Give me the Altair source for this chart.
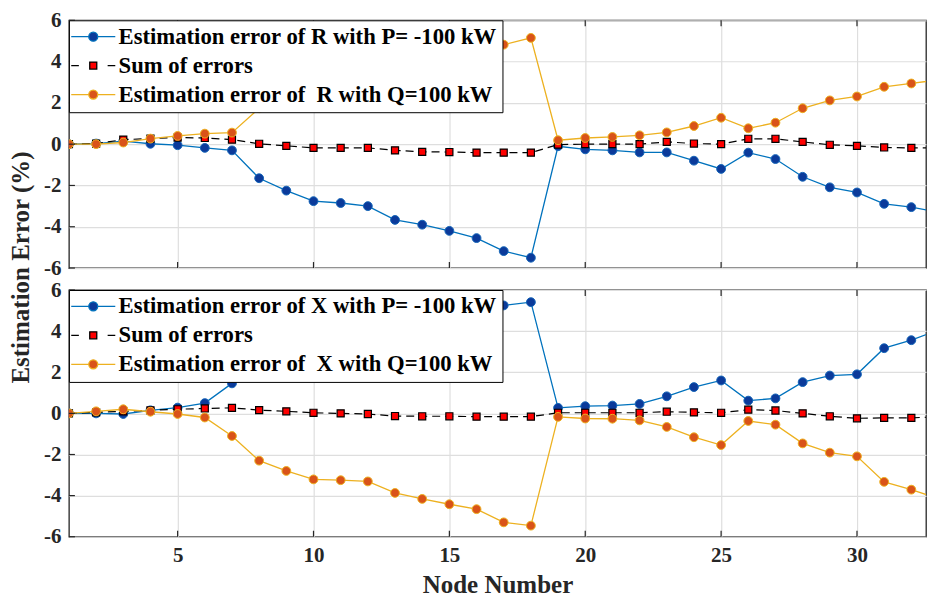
import altair as alt
import pandas as pd

# ---------------- data ----------------
nodes = list(range(1, 34))

r_p = [0.0, 0.03, 0.15, 0.02, -0.05, -0.18, -0.3, -1.65, -2.25, -2.76, -2.85, -3.0, -3.67,
       -3.9, -4.2, -4.55, -5.18, -5.5, -0.1, -0.25, -0.3, -0.4, -0.4, -0.8, -1.2, -0.41,
       -0.72, -1.58, -2.09, -2.34, -2.89, -3.05, -3.29]
r_sum = [0.0, 0.03, 0.22, 0.27, 0.32, 0.3, 0.22, 0.02, -0.08, -0.18, -0.18, -0.18, -0.3,
         -0.37, -0.38, -0.41, -0.41, -0.41, -0.02, 0.0, 0.0, 0.0, 0.11, 0.03, 0.0, 0.26,
         0.26, 0.11, -0.03, -0.08, -0.16, -0.18, -0.17]
r_q = [0.0, 0.0, 0.08, 0.27, 0.4, 0.51, 0.56, 1.74, 2.17, 2.58, 2.67, 2.82, 3.37, 3.53,
       3.82, 4.14, 4.82, 5.15, 0.19, 0.3, 0.35, 0.43, 0.57, 0.88, 1.28, 0.77, 1.04, 1.74,
       2.12, 2.31, 2.78, 2.94, 3.12]

x_p = [0.0, 0.0, -0.03, 0.15, 0.28, 0.5, 1.46, 2.46, 2.9, 3.24, 3.25, 3.28, 3.74, 4.02,
       4.28, 4.5, 5.25, 5.41, 0.27, 0.35, 0.38, 0.46, 0.83, 1.28, 1.6, 0.62, 0.73, 1.52,
       1.84, 1.9, 3.17, 3.56, 4.06]
x_sum = [0.0, 0.05, 0.1, 0.15, 0.2, 0.24, 0.27, 0.16, 0.1, 0.03, 0.0, -0.03, -0.13, -0.14,
         -0.14, -0.16, -0.16, -0.16, 0.03, 0.03, 0.03, 0.03, 0.08, 0.05, 0.03, 0.18, 0.14,
         0.0, -0.14, -0.24, -0.22, -0.22, -0.16]
x_q = [0.0, 0.1, 0.2, 0.08, -0.03, -0.2, -1.1, -2.3, -2.8, -3.21, -3.25, -3.31, -3.87,
       -4.16, -4.42, -4.66, -5.3, -5.46, -0.17, -0.25, -0.26, -0.34, -0.66, -1.16, -1.54,
       -0.37, -0.55, -1.46, -1.91, -2.09, -3.33, -3.71, -4.15]

x_ticks = [5, 10, 15, 20, 25, 30]
y_ticks = [-6, -4, -2, 0, 2, 4, 6]

# ---------------- styles ----------------
FONT = "Liberation Serif"
INK = "#262626"
GRID = "#dedede"
BLUE_LINE, BLUE_FILL, BLUE_EDGE = "#0072BD", "#0B3A9A", "#1464B8"
ORANGE_LINE, ORANGE_FILL, ORANGE_EDGE = "#EDB120", "#D95319", "#EDB120"
SUM_FILL = "#FF0000"

RC = 1.0
circle_path = f"M{RC},0A{RC},{RC} 0 1,1 -{RC},0A{RC},{RC} 0 1,1 {RC},0Z"
blue_sym = f"M-4.9,0H-{RC}M{RC},0H4.9" + circle_path
orange_sym = blue_sym
sum_sym = "M-4.9,0H-3.2M3.2,0H4.9M-0.78,-0.78H0.78V0.78H-0.78Z"

PLOT_W = 858
X_END = 32.54


def panel(p_vals, s_vals, q_vals, letter, height, bottom):
    names = [f"Estimation error of {letter} with P= -100 kW",
             "Sum of errors",
             f"Estimation error of\u00a0 {letter} with Q=100 kW"]
    df = pd.DataFrame({
        "node": nodes * 3,
        "value": p_vals + s_vals + q_vals,
        "series": [names[0]] * 33 + [names[1]] * 33 + [names[2]] * 33,
    })
    xs = alt.Scale(domain=[1, X_END], nice=False, zero=False)
    ys = alt.Scale(domain=[-6, 6], nice=False, zero=False)

    xa = dict(values=x_ticks, grid=True, ticks=False, domain=False, gridColor=GRID,
              gridWidth=1.2, labels=bottom, labelFontSize=21, labelFontWeight="bold",
              labelColor=INK, labelPadding=8)
    if bottom:
        xa.update(title="Node Number", titleFontSize=25, titleFontWeight="bold",
                  titleColor=INK, titlePadding=7)
    else:
        xa.update(title="")
    ya = dict(values=y_ticks, grid=True, ticks=False, domain=False, gridColor=GRID,
              gridWidth=1.2, labelExpr="'' + datum.value", labelFontSize=21,
              labelFontWeight="bold", labelColor=INK, labelPadding=8)
    if not bottom:
        ya.update(title="Estimation Error (%)", titleFontSize=25, titleFontWeight="bold",
                  titleColor=INK, titleX=-40, titleY=247, titleAngle=-90,
                  titleAlign="center", titleBaseline="alphabetic")
    else:
        ya.update(title="")
    x_axis = alt.Axis(**xa)
    y_axis = alt.Axis(**ya)

    X = alt.X("node:Q", scale=xs, axis=x_axis)
    Y = alt.Y("value:Q", scale=ys, axis=y_axis)
    base = alt.Chart(df)

    def sel(n):
        return base.transform_filter(alt.datum.series == n)

    p_line = sel(names[0]).mark_line(color=BLUE_LINE, strokeWidth=1.3, clip=True).encode(X, Y)
    p_pts = sel(names[0]).mark_point(shape="circle", filled=True, fill=BLUE_FILL,
                                     stroke=BLUE_EDGE, strokeWidth=1, size=78, opacity=1,
                                     clip=True).encode(X, Y)
    s_line = sel(names[1]).mark_line(color="black", strokeDash=[8, 5], strokeWidth=1.2,
                                     clip=True).encode(X, Y)
    s_pts = sel(names[1]).mark_point(shape="square", filled=True, fill=SUM_FILL,
                                     stroke="black", strokeWidth=1.2, size=50, opacity=1,
                                     clip=True).encode(X, Y)
    q_line = sel(names[2]).mark_line(color=ORANGE_LINE, strokeWidth=1.3, clip=True).encode(X, Y)
    q_pts = sel(names[2]).mark_point(shape="circle", filled=True, fill=ORANGE_FILL,
                                     stroke=ORANGE_EDGE, strokeWidth=1, size=78, opacity=1,
                                     clip=True).encode(X, Y)

    xt = alt.Chart(pd.DataFrame({"t": x_ticks}))
    yt = alt.Chart(pd.DataFrame({"t": y_ticks}))
    XT = alt.X("t:Q", scale=xs, axis=x_axis)
    YT = alt.Y("t:Q", scale=ys, axis=y_axis)
    tick_top = xt.mark_rule(color=INK, strokeWidth=1.2).encode(XT, y=alt.value(0), y2=alt.value(6))
    tick_bot = xt.mark_rule(color=INK, strokeWidth=1.2).encode(
        XT, y=alt.value(height), y2=alt.value(height - 6))
    tick_left = yt.mark_rule(color=INK, strokeWidth=1.2).encode(YT, x=alt.value(0), x2=alt.value(6))

    leg = alt.Legend(orient="none", legendX=0, legendY=0, title=None, fillColor="white",
                     strokeColor="black", padding=5, rowPadding=5, symbolSize=81,
                     symbolOffset=8, labelOffset=14, labelLimit=700, symbolStrokeWidth=1.3,
                     labelFont=FONT, labelFontSize=22.7, labelFontWeight="bold",
                     labelColor="black", cornerRadius=0)
    legend_layer = base.transform_filter("false").mark_point(
        filled=True, opacity=1, strokeWidth=1.3).encode(
        shape=alt.Shape("series:N", scale=alt.Scale(domain=names, range=[blue_sym, sum_sym, orange_sym]), legend=leg),
        fill=alt.Fill("series:N", scale=alt.Scale(domain=names, range=[BLUE_FILL, SUM_FILL, ORANGE_FILL]), legend=leg),
        stroke=alt.Stroke("series:N", scale=alt.Scale(domain=names, range=[BLUE_LINE, "#000000", ORANGE_LINE]), legend=leg),
    )

    return alt.layer(p_line, p_pts, s_line, s_pts, q_line, q_pts,
                     tick_top, tick_bot, tick_left, legend_layer).properties(
        width=PLOT_W, height=height)


top = panel(r_p, r_sum, r_q, "R", 248, False)
bot = panel(x_p, x_sum, x_q, "X", 247, True)

chart = alt.vconcat(top, bot, spacing=22, bounds="flush").resolve_scale(
    x="independent", y="independent", shape="independent", fill="independent",
    stroke="independent").resolve_legend(
    shape="independent", fill="independent", stroke="independent").configure(
    font=FONT, padding={"left": 0, "top": 0, "right": 0, "bottom": 0}).configure_view(
    stroke=INK, strokeWidth=1.3)

chart.save("out.html", embed_options={"renderer": "svg", "actions": False})
